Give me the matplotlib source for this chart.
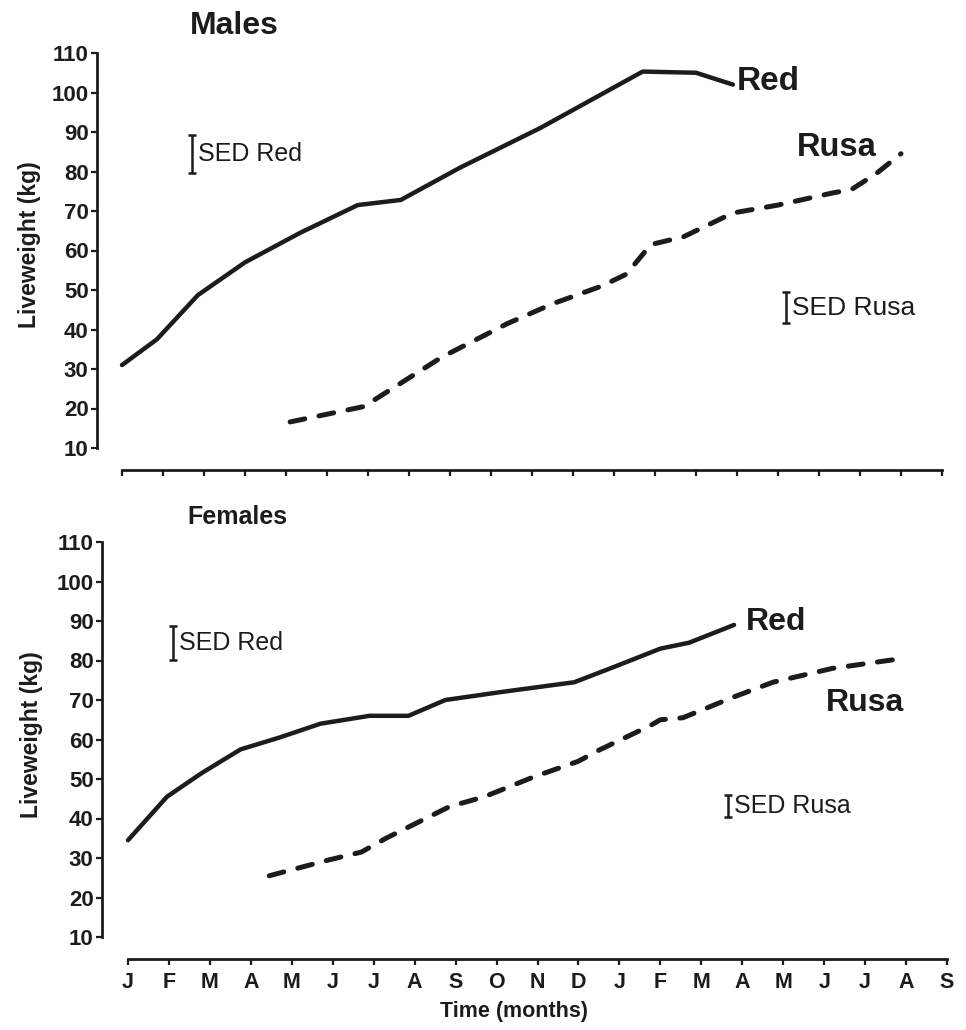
import numpy as np
import matplotlib
matplotlib.use("Agg")
import matplotlib.pyplot as plt

plt.rcParams['font.family'] = ['Liberation Sans', 'DejaVu Sans']

months = ['J', 'F', 'M', 'A', 'M', 'J', 'J', 'A', 'S', 'O', 'N', 'D',
          'J', 'F', 'M', 'A', 'M', 'J', 'J', 'A', 'S']
yticks = [10, 20, 30, 40, 50, 60, 70, 80, 90, 100, 110]

# males, time in months from the first January
red_m_t = [0, 0.85, 1.85, 3.0, 4.35, 5.75, 6.8, 8.25, 10.2, 12.7, 14.0, 14.9]
red_m_w = [31, 37.5, 48.7, 57, 64.5, 71.5, 72.8, 81, 91, 105.3, 105, 102]
rusa_m_t = [4.1, 5.9, 7.8, 9.4, 10.5, 11.7, 12.3, 12.9, 13.7, 14.9, 16.0,
            17.3, 17.8, 18.4, 19.0]
rusa_m_w = [16.6, 20.5, 33, 41.5, 46.5, 51, 54, 61.5, 63.5, 69.5, 71.5,
            74.5, 75.5, 79.5, 84.5]

# females
red_f_t = [0, 0.95, 1.8, 2.75, 3.7, 4.7, 5.9, 6.85, 7.75, 9.1, 10.9, 11.9,
           13.0, 13.7, 14.8]
red_f_w = [34.5, 45.5, 51.5, 57.5, 60.5, 64, 66, 66, 70, 72, 74.5, 78.5,
           83, 84.5, 89]
rusa_f_t = [3.45, 4.9, 5.7, 6.3, 7.85, 8.7, 9.9, 11.0, 11.5, 12.75, 13.0,
            13.55, 14.8, 15.75, 17.2, 18.9]
rusa_f_w = [25.5, 29.5, 31.5, 35, 43, 45.5, 50.5, 54.5, 57.3, 63.5, 65,
            65.5, 70.8, 74.5, 78, 80.5]

# SED bars: (time, low, high)
sed_red_m = (1.7, 79.6, 89.2)
sed_rusa_m = (16.2, 41.6, 49.5)
sed_red_f = (1.1, 80.2, 88.7)
sed_rusa_f = (14.65, 40.4, 46.0)

ink = '#1c1c1c'
W, H = 966, 1030
fig = plt.figure(figsize=(W / 100, H / 100), dpi=100)


def panel(left, right, bottom, top, x0, xstep):
    ax = fig.add_axes([left / W, (H - bottom) / H, (right - left) / W,
                       (bottom - top) / H])
    ax.set_xlim((left - x0) / xstep, (right - x0) / xstep)
    ax.set_ylim(10, 110)
    ax.patch.set_alpha(0)
    for s in ['top', 'right']:
        ax.spines[s].set_visible(False)
    ax.spines['left'].set_bounds(10, 110)
    ax.spines['bottom'].set_bounds(0, 20)
    ax.spines['bottom'].set_position(('outward', 16))
    for s in ['left', 'bottom']:
        ax.spines[s].set_linewidth(2.0)
        ax.spines[s].set_color(ink)
    ax.set_yticks(yticks)
    ax.set_yticklabels([str(v) for v in yticks], fontsize=16,
                       fontweight='bold', color=ink)
    ax.set_xticks(range(len(months)))
    ax.tick_params(axis='both', direction='out', length=4, width=1.6,
                   color=ink, pad=2)
    return ax


def sed(ax, bar, label, size=18):
    t, lo, hi = bar
    ax.errorbar([t], [(lo + hi) / 2], yerr=[[(hi - lo) / 2], [(hi - lo) / 2]],
                fmt='none', ecolor=ink, elinewidth=1.8, capsize=3,
                capthick=1.8)
    ax.text(t + 0.15, (lo + hi) / 2, label, fontsize=size, color=ink,
            va='center', ha='left')


def curves(ax, rt, rw, st, sw):
    ax.plot(rt, rw, color=ink, lw=3.2, solid_capstyle='round',
            solid_joinstyle='round')
    ax.plot(st, sw, color=ink, lw=3.6, dashes=(3.0, 2.9),
            dash_capstyle='round', dash_joinstyle='round')


# males
ax1 = panel(97, 960, 448, 53, 122, 41.0)
ax1.set_xticklabels([])
curves(ax1, red_m_t, red_m_w, rusa_m_t, rusa_m_w)
sed(ax1, sed_red_m, 'SED Red')
sed(ax1, sed_rusa_m, 'SED Rusa', 19)
ax1.text(15.0, 102.7, 'Red', fontsize=24, fontweight='bold', color=ink,
         va='center')
ax1.text(16.45, 86, 'Rusa', fontsize=23.5, fontweight='bold', color=ink,
         va='center')
ax1.text(1.65, 116.8, 'Males', fontsize=23, fontweight='bold', color=ink,
         va='center', clip_on=False)

# females
ax2 = panel(102, 960, 937, 542, 128, 40.95)
ax2.set_xticklabels(months, fontsize=15.5, fontweight='bold', color=ink)
ax2.tick_params(axis='x', pad=5)
curves(ax2, red_f_t, red_f_w, rusa_f_t, rusa_f_w)
sed(ax2, sed_red_f, 'SED Red')
sed(ax2, sed_rusa_f, 'SED Rusa')
ax2.text(15.1, 89.7, 'Red', fontsize=23, fontweight='bold', color=ink,
         va='center')
ax2.text(17.05, 69.2, 'Rusa', fontsize=23, fontweight='bold', color=ink,
         va='center')
ax2.text(1.45, 116.3, 'Females', fontsize=18, fontweight='bold', color=ink,
         va='center', clip_on=False)

fig.text(30 / W, 1 - 245 / H, 'Liveweight (kg)', rotation=90, fontsize=16.5,
         fontweight='bold', color=ink, ha='center', va='center')
fig.text(32 / W, 1 - 735 / H, 'Liveweight (kg)', rotation=90, fontsize=16.5,
         fontweight='bold', color=ink, ha='center', va='center')
fig.text(514 / W, 1 - 1012 / H, 'Time (months)', fontsize=15.5,
         fontweight='bold', color=ink, ha='center', va='center')

fig.savefig('out.png', dpi=100, facecolor='white')
